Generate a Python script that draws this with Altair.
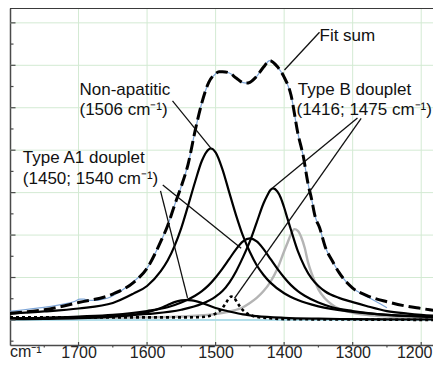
import altair as alt
import pandas as pd

# ---------------- data ----------------
# fit sum (dashed)
fit_x = [1800, 1750, 1700, 1650, 1620, 1600, 1580, 1570, 1560, 1550, 1540, 1530, 1520, 1510, 1500, 1495,
         1490, 1480, 1470, 1460, 1455, 1450, 1440, 1430, 1421, 1410, 1400, 1390, 1380, 1372, 1365, 1360,
         1355, 1348, 1340, 1329, 1320, 1300, 1280, 1250, 1220, 1200, 1172]
fit_y = [0.16, 0.24, 0.41, 0.61, 0.88, 1.22, 1.85, 2.22, 2.70, 3.15, 3.68, 4.45, 5.12, 5.60, 5.80, 5.85,
         5.85, 5.82, 5.70, 5.59, 5.58, 5.60, 5.74, 5.96, 6.11, 5.97, 5.72, 5.30, 4.40, 3.85, 3.20, 2.85,
         2.45, 2.16, 1.72, 1.37, 1.12, 0.75, 0.58, 0.43, 0.32, 0.27, 0.20]
# measured spectrum (thin blue)
exp_x = [1800, 1780, 1760, 1740, 1720, 1705, 1698, 1692, 1685, 1675, 1665, 1655, 1645, 1635, 1620, 1600,
         1580, 1570, 1560, 1550, 1540, 1530, 1520, 1510, 1500, 1495, 1490, 1480, 1470, 1460, 1455, 1450,
         1440, 1430, 1421, 1410, 1400, 1390, 1380, 1372, 1365, 1360, 1355, 1348, 1340, 1329, 1320, 1300,
         1285, 1270, 1260, 1250]
exp_y = [0.20, 0.24, 0.28, 0.32, 0.38, 0.44, 0.49, 0.49, 0.46, 0.46, 0.49, 0.53, 0.62, 0.72, 0.90, 1.22,
         1.85, 2.22, 2.70, 3.15, 3.68, 4.45, 5.12, 5.60, 5.80, 5.85, 5.85, 5.82, 5.70, 5.59, 5.58, 5.60,
         5.74, 5.96, 6.11, 5.97, 5.72, 5.30, 4.40, 3.85, 3.20, 2.85, 2.45, 2.16, 1.72, 1.37, 1.12, 0.75,
         0.60, 0.47, 0.38, 0.29]
# non-apatitic 1506
na_x = [1800, 1750, 1700, 1650, 1620, 1600, 1580, 1570, 1560, 1550, 1540, 1530, 1520, 1510, 1507, 1500,
        1490, 1480, 1470, 1460, 1450, 1440, 1430, 1420, 1400, 1380, 1350, 1300, 1250, 1200, 1172]
na_y = [0.15, 0.20, 0.27, 0.40, 0.62, 0.80, 1.15, 1.40, 1.74, 2.17, 2.70, 3.25, 3.75, 4.02, 4.04, 3.95,
        3.55, 3.00, 2.46, 1.98, 1.60, 1.29, 1.06, 0.88, 0.63, 0.47, 0.32, 0.19, 0.12, 0.09, 0.075]
# type B 1416
b1_x = [1800, 1700, 1600, 1550, 1520, 1500, 1490, 1480, 1470, 1460, 1450, 1440, 1430, 1425, 1420, 1416,
        1410, 1405, 1400, 1395, 1390, 1380, 1370, 1360, 1350, 1340, 1320, 1300, 1280, 1250, 1220, 1200, 1172]
b1_y = [0.04, 0.06, 0.14, 0.24, 0.38, 0.55, 0.68, 0.88, 1.15, 1.48, 1.85, 2.30, 2.75, 2.92, 3.06, 3.10,
        3.03, 2.88, 2.65, 2.38, 2.12, 1.62, 1.25, 0.98, 0.80, 0.67, 0.52, 0.42, 0.33, 0.21, 0.15, 0.12, 0.09]
# type B 1475 (dotted)
b2_x = [1800, 1700, 1600, 1550, 1520, 1510, 1500, 1495, 1490, 1485, 1480, 1477, 1473, 1468, 1463, 1458,
        1450, 1440, 1420, 1400, 1300, 1172]
b2_y = [0.06, 0.06, 0.06, 0.06, 0.07, 0.09, 0.15, 0.20, 0.28, 0.40, 0.52, 0.55, 0.52, 0.40, 0.28, 0.20,
        0.12, 0.07, 0.04, 0.02, 0.01, 0.00]
# type A1 1450
a1_x = [1800, 1750, 1700, 1650, 1600, 1570, 1550, 1530, 1520, 1510, 1500, 1490, 1480, 1470, 1460, 1450,
        1440, 1430, 1420, 1410, 1400, 1390, 1380, 1370, 1350, 1330, 1300, 1250, 1200, 1172]
a1_y = [0.04, 0.05, 0.08, 0.12, 0.21, 0.30, 0.41, 0.57, 0.68, 0.82, 1.00, 1.21, 1.44, 1.67, 1.85, 1.92,
        1.85, 1.67, 1.44, 1.21, 1.00, 0.82, 0.68, 0.57, 0.41, 0.30, 0.21, 0.12, 0.08, 0.06]
# type A1 1540
a2_x = [1800, 1750, 1700, 1650, 1620, 1600, 1580, 1570, 1560, 1550, 1544, 1535, 1520, 1500, 1480, 1460,
        1440, 1400, 1350, 1300, 1172]
a2_y = [0.02, 0.025, 0.04, 0.08, 0.12, 0.18, 0.28, 0.35, 0.42, 0.46, 0.47, 0.46, 0.40, 0.28, 0.20, 0.13,
        0.09, 0.05, 0.03, 0.02, 0.01]
# grey band ~1384
g_x = [1800, 1600, 1550, 1500, 1480, 1460, 1450, 1440, 1430, 1420, 1410, 1400, 1395, 1390, 1385, 1380,
       1375, 1370, 1365, 1360, 1355, 1350, 1340, 1330, 1320, 1300, 1280, 1250, 1200, 1172]
g_y = [0.03, 0.06, 0.08, 0.14, 0.20, 0.30, 0.40, 0.52, 0.68, 0.90, 1.20, 1.62, 1.82, 2.02, 2.14, 2.10,
       1.95, 1.70, 1.35, 1.10, 0.90, 0.72, 0.50, 0.36, 0.26, 0.17, 0.12, 0.08, 0.05, 0.04]
baseline_y = [0]

# axis / grid values
x_grid = [1700, 1600, 1500, 1400, 1300, 1200]
x_minor = [1750, 1650, 1550, 1450, 1350, 1250]
y_grid = [0, 1, 2, 3, 4, 5, 6, 7]
y_minor = [-0.5, 0.5, 1.5, 2.5, 3.5, 4.5, 5.5, 6.5]

# annotations
ann_text = ["Fit sum", "Type B douplet", "(1416; 1475 cm⁻¹)", "Non-apatitic", "(1506 cm⁻¹)",
            "Type A1 douplet", "(1450; 1540 cm⁻¹)"]
ann_x = [1348.4, 1380.0, 1382.0, 1698.6, 1698.6, 1781.3, 1781.3]
ann_y = [6.57, 5.30, 4.83, 5.30, 4.83, 3.70, 3.20]

lead_x1 = [1348.4, 1562.9, 1293.0, 1287.6, 1580.4, 1577.1]
lead_y1 = [6.78, 5.16, 4.76, 4.75, 3.04, 3.18]
lead_x2 = [1399.5, 1506.0, 1417.0, 1472.5, 1541.0, 1462.7]
lead_y2 = [5.89, 4.03, 3.11, 0.51, 0.52, 1.69]

# ---------------- chart ----------------
W, H = 423, 337
FONT = "Liberation Sans"
xs = alt.Scale(domain=[1800, 1182.8], nice=False, zero=False)
ys = alt.Scale(domain=[-0.59, 7.35], nice=False, zero=False)
x_axis = alt.Axis(values=x_grid, grid=False, ticks=False, domain=True, domainColor="#4a4a4a",
                  domainWidth=1.5, labelFont=FONT, labelFontSize=16, labelColor="#222222",
                  labelPadding=12, labelBaseline="alphabetic", title=None, labelFlush=False,
                  format="d",
                  labelOffset={"condition": {"test": "datum.value == 1200", "value": -7}, "value": 0})
y_axis = alt.Axis(grid=False, ticks=False, labels=False, domain=True, domainColor="#4a4a4a",
                  domainWidth=1.5, title=None)


def X(f="x"):
    return alt.X(f"{f}:Q", scale=xs, axis=x_axis)


def Y(f="y"):
    return alt.Y(f"{f}:Q", scale=ys, axis=y_axis)


def line(xv, yv, color, width, dash=None):
    kw = dict(color=color, strokeWidth=width, interpolate="monotone", clip=True)
    if dash:
        kw["strokeDash"] = dash
    return alt.Chart(pd.DataFrame({"x": xv, "y": yv})).mark_line(**kw).encode(x=X(), y=Y())


GRID = "#d3ead3"
vgrid = alt.Chart(pd.DataFrame({"x": x_grid})).mark_rule(color=GRID, strokeWidth=1).encode(x=X())
hgrid = alt.Chart(pd.DataFrame({"y": y_grid})).mark_rule(color=GRID, strokeWidth=1).encode(y=Y())
base = alt.Chart(pd.DataFrame({"y": baseline_y})).mark_rule(color="#9fd6ea", strokeWidth=1.6).encode(y=Y())

yt_major = alt.Chart(pd.DataFrame({"y": y_grid})).mark_rule(color="#4a4a4a", strokeWidth=1.2).encode(
    y=Y(), x=alt.value(0), x2=alt.value(5.5))
yt_minor = alt.Chart(pd.DataFrame({"y": y_minor})).mark_rule(color="#4a4a4a", strokeWidth=1.2).encode(
    y=Y(), x=alt.value(0), x2=alt.value(3.5))
xt_major = alt.Chart(pd.DataFrame({"x": x_grid})).mark_rule(color="#4a4a4a", strokeWidth=1.2).encode(
    x=X(), y=alt.value(H), y2=alt.value(H - 3))
xt_minor = alt.Chart(pd.DataFrame({"x": x_minor})).mark_rule(color="#4a4a4a", strokeWidth=1.2).encode(
    x=X(), y=alt.value(H), y2=alt.value(H + 2.5))
top = alt.Chart(pd.DataFrame({"y": [0]})).mark_rule(color="#3a3a3a", strokeWidth=1.8).encode(
    y=alt.value(0), x=alt.value(0), x2=alt.value(W))

unit = alt.Chart(pd.DataFrame({"t": ["cm⁻¹"]})).mark_text(
    align="left", baseline="alphabetic", font=FONT, fontSize=16, color="#222222").encode(
    text="t:N", x=alt.value(0), y=alt.value(H + 12))

ann = alt.Chart(pd.DataFrame({"x": ann_x, "y": ann_y, "t": ann_text})).mark_text(
    align="left", baseline="alphabetic", font=FONT, fontSize=17, color="#111111").encode(
    x=X(), y=Y(), text="t:N")
leads = alt.Chart(pd.DataFrame({"x": lead_x1, "y": lead_y1, "x2": lead_x2, "y2": lead_y2})).mark_rule(
    color="#111111", strokeWidth=1.3).encode(x=X(), y=Y(), x2="x2:Q", y2="y2:Q")

chart = alt.layer(
    vgrid, hgrid, base,
    line(g_x, g_y, "#b4b4b4", 2.4),
    line(b2_x, b2_y, "#000000", 2.6, [3, 3]),
    line(a2_x, a2_y, "#000000", 2.2),
    line(a1_x, a1_y, "#000000", 2.2),
    line(b1_x, b1_y, "#000000", 2.2),
    line(na_x, na_y, "#000000", 2.2),
    line(exp_x, exp_y, "#7ea6d8", 1.2),
    line(fit_x, fit_y, "#000000", 3.0, [12, 5]),
    leads, ann,
    yt_major, yt_minor, xt_major, xt_minor, top, unit,
).properties(
    width=W, height=H, autosize="none",
    padding={"left": 2, "top": 0, "right": 0, "bottom": 16},
).configure_view(stroke=None).configure(background="white")

chart.save("out.html", embed_options={"renderer": "svg", "actions": False})
